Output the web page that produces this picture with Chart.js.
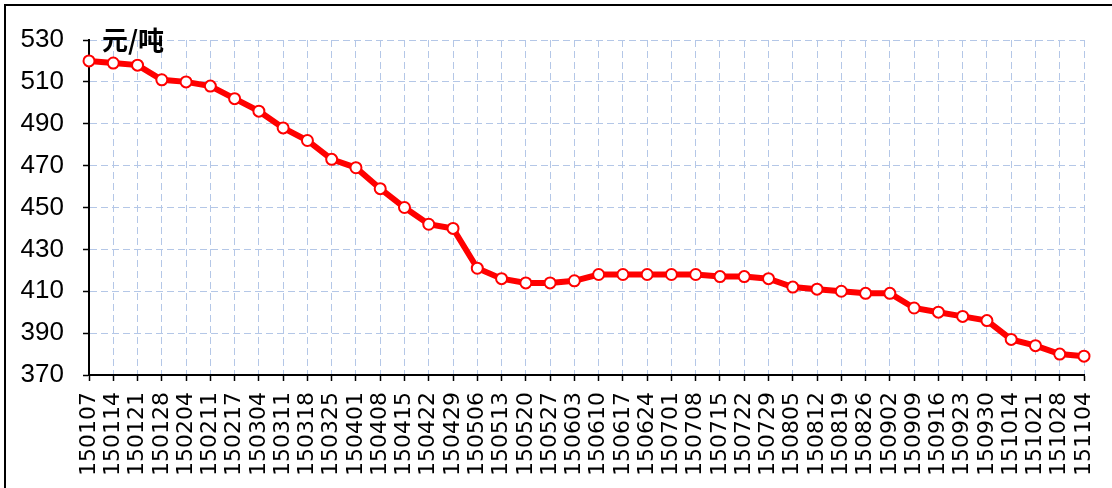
<!DOCTYPE html>
<html>
<head>
<meta charset="utf-8">
<script src="https://cdn.jsdelivr.net/npm/chart.js@4/dist/chart.umd.min.js"></script>
<style>
  html, body { margin: 0; padding: 0; background: #fff; }
  #box { width: 1112px; height: 488px; }
</style>
</head>
<body>
<div id="box"><canvas id="chart-line" width="1112" height="488"></canvas></div>
<script>
// weekly dates (yymmdd) and price, 元/吨
var dates = ['150107','150114','150121','150128','150204','150211','150217','150304','150311','150318',
             '150325','150401','150408','150415','150422','150429','150506','150513','150520','150527',
             '150603','150610','150617','150624','150701','150708','150715','150722','150729','150805',
             '150812','150819','150826','150902','150909','150916','150923','150930','151014','151021',
             '151028','151104']
var price = [520, 519, 518, 511, 510, 508, 502, 496, 488, 482,
             473, 469, 459, 450, 442, 440, 421, 416, 414, 414,
             415, 418, 418, 418, 418, 418, 417, 417, 416, 412,
             411, 410, 409, 409, 402, 400, 398, 396, 387, 384,
             380, 379]
var yMin = 370, yMax = 530, yStep = 20
var unitText = '元/吨'

var gridBlue = '#b4c7e7'

// white background, outer frame and unit label
var extras = {
    id: 'extras',
    beforeDraw: function (chart) {
        var c = chart.ctx
        c.save()
        c.fillStyle = '#fff'
        c.fillRect(0, 0, chart.width, chart.height)
        c.strokeStyle = '#000'
        c.lineWidth = 2
        c.strokeRect(5, 5, chart.width + 50, chart.height + 50)
        c.restore()
    },
    afterDraw: function (chart) {
        var c = chart.ctx
        c.save()
        c.fillStyle = '#000'
        c.font = 'bold 26px "Noto Sans CJK SC"'
        c.textBaseline = 'alphabetic'
        c.fillText(unitText, chart.chartArea.left + 13, chart.chartArea.top + 10)
        c.restore()
    }
}

var ctx = document.getElementById('chart-line')
var myLineChart = new Chart(ctx, {
    type: 'line',
    data: {
        labels: dates,
        datasets: [{
            data: price,
            borderColor: '#ff0000',
            borderWidth: 6,
            pointRadius: 5.5,
            pointBorderWidth: 2,
            pointBackgroundColor: '#ffffff',
            pointBorderColor: '#ff0000',
            tension: 0
        }]
    },
    options: {
        responsive: false,
        animation: false,
        events: [],
        layout: { padding: { left: 0, top: 40, right: 28, bottom: 0 } },
        plugins: { legend: { display: false }, tooltip: { enabled: false } },
        scales: {
            x: {
                offset: false,
                afterFit: function (scale) {
                    scale.height = 113
                    scale.paddingLeft = 0
                    scale.paddingRight = 0
                },
                grid: {
                    color: gridBlue,
                    lineWidth: 1,
                    tickColor: '#000',
                    tickLength: 6,
                    tickWidth: 1.5
                },
                border: { color: '#000', width: 2, dash: [7, 4] },
                ticks: {
                    autoSkip: false,
                    minRotation: 90,
                    maxRotation: 90,
                    padding: 11,
                    color: '#000',
                    font: { family: 'DejaVu Sans', size: 22 }
                }
            },
            y: {
                min: yMin,
                max: yMax,
                afterFit: function (scale) {
                    scale.width = 89
                    scale.paddingTop = 0
                    scale.paddingBottom = 0
                },
                grid: {
                    color: gridBlue,
                    lineWidth: 1,
                    tickColor: '#000',
                    tickLength: 6,
                    tickWidth: 1.5
                },
                border: { color: '#000', width: 2, dash: [7, 4] },
                ticks: {
                    stepSize: yStep,
                    padding: 19,
                    color: '#000',
                    font: { family: 'Liberation Sans', size: 26 }
                }
            }
        }
    },
    plugins: [extras]
})
</script>
</body>
</html>
